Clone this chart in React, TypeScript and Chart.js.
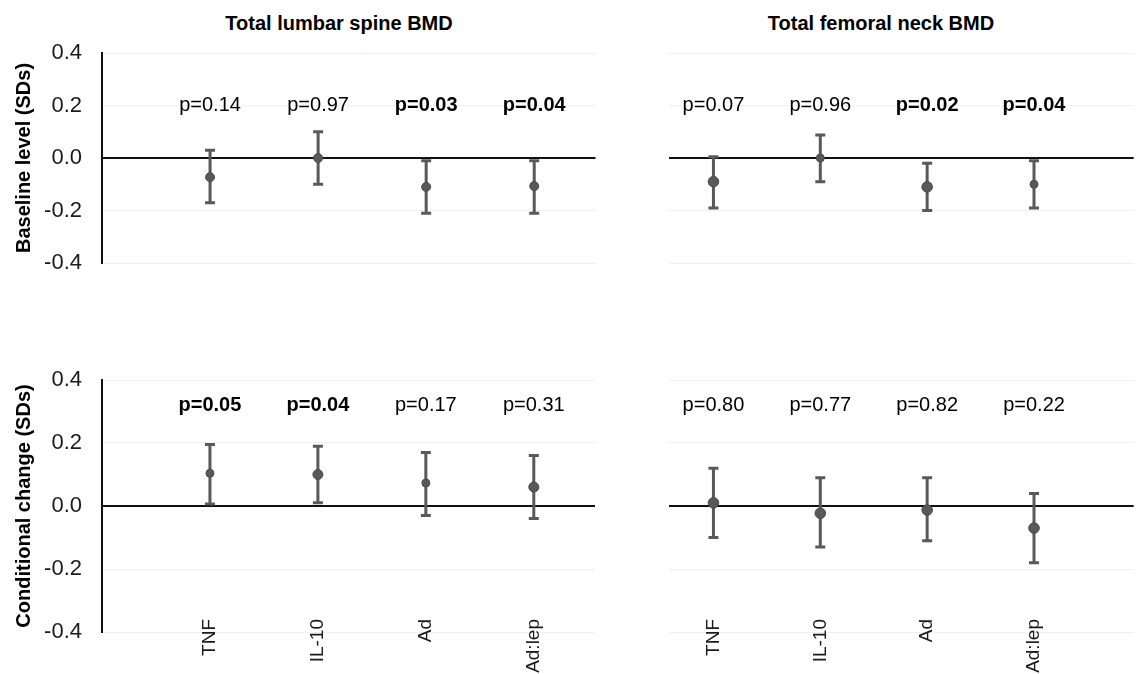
import React, { useEffect, useRef } from "react";
import { Chart, registerables } from "chart.js";

Chart.register(...registerables);

// ---------- data ----------
const categories = ["TNF", "IL-10", "Ad", "Ad:lep"];
const yTickValues = [-0.4, -0.2, 0.0, 0.2, 0.4];

const panelTitles = ["Total lumbar spine BMD", "Total femoral neck BMD"];
const rowTitles = ["Baseline level (SDs)", "Conditional change (SDs)"];

// Top-left: lumbar spine, baseline level
const lumbarBaselineMean = [-0.073, 0.0, -0.11, -0.107];
const lumbarBaselineLower = [-0.17, -0.1, -0.21, -0.21];
const lumbarBaselineUpper = [0.03, 0.1, -0.01, -0.01];
const lumbarBaselineP = ["p=0.14", "p=0.97", "p=0.03", "p=0.04"];
const lumbarBaselineBold = [false, false, true, true];

// Top-right: femoral neck, baseline level
const femoralBaselineMean = [-0.09, 0.0, -0.11, -0.1];
const femoralBaselineLower = [-0.19, -0.09, -0.2, -0.19];
const femoralBaselineUpper = [0.005, 0.088, -0.02, -0.01];
const femoralBaselineP = ["p=0.07", "p=0.96", "p=0.02", "p=0.04"];
const femoralBaselineBold = [false, false, true, true];

// Bottom-left: lumbar spine, conditional change
const lumbarChangeMean = [0.104, 0.1, 0.073, 0.06];
const lumbarChangeLower = [0.006, 0.01, -0.03, -0.04];
const lumbarChangeUpper = [0.195, 0.19, 0.17, 0.16];
const lumbarChangeP = ["p=0.05", "p=0.04", "p=0.17", "p=0.31"];
const lumbarChangeBold = [true, true, false, false];

// Bottom-right: femoral neck, conditional change
const femoralChangeMean = [0.01, -0.023, -0.013, -0.07];
const femoralChangeLower = [-0.1, -0.13, -0.11, -0.18];
const femoralChangeUpper = [0.12, 0.09, 0.09, 0.04];
const femoralChangeP = ["p=0.80", "p=0.77", "p=0.82", "p=0.22"];
const femoralChangeBold = [false, false, false, false];

// ---------- styling ----------
const FONT = '"Liberation Sans", Arial, Helvetica, sans-serif';
const MARK = "#595959";

type PanelProps = {
  mean: number[];
  lower: number[];
  upper: number[];
  pLabels: string[];
  pBold: boolean[];
  radii: number[];
  left: number;
  top: number;
  width: number;
  height: number;
  padTop: number;
  padBottom: number;
  padLeft: number;
  showY: boolean;
  yTitle?: string;
  showX: boolean;
  xMin: number;
  xMax: number;
  pOffset: number;
};

function makeErrorPlugin(p: PanelProps) {
  return {
    id: "errorBarsAndP",
    beforeDatasetsDraw(chart: any) {
      const { ctx } = chart;
      const x = chart.scales.x;
      const y = chart.scales.y;
      ctx.save();
      ctx.strokeStyle = MARK;
      ctx.lineWidth = 3;
      ctx.lineCap = "butt";
      p.lower.forEach((lo, i) => {
        const px = x.getPixelForValue(i + 1);
        const yl = y.getPixelForValue(lo);
        const yu = y.getPixelForValue(p.upper[i]);
        ctx.beginPath();
        ctx.moveTo(px, yl);
        ctx.lineTo(px, yu);
        ctx.moveTo(px - 5, yl);
        ctx.lineTo(px + 5, yl);
        ctx.moveTo(px - 5, yu);
        ctx.lineTo(px + 5, yu);
        ctx.stroke();
      });
      ctx.restore();
    },
    afterDatasetsDraw(chart: any) {
      const { ctx, chartArea } = chart;
      const x = chart.scales.x;
      ctx.save();
      ctx.fillStyle = "#000";
      ctx.textAlign = "center";
      ctx.textBaseline = "middle";
      p.pLabels.forEach((t, i) => {
        ctx.font = `${p.pBold[i] ? "bold " : ""}20px ${FONT}`;
        ctx.fillText(t, x.getPixelForValue(i + 1), chartArea.top + p.pOffset);
      });
      ctx.restore();
    },
  };
}

function Panel(props: PanelProps) {
  const ref = useRef<HTMLCanvasElement | null>(null);
  useEffect(() => {
    if (!ref.current) return;
    const p = props;
    const chart = new Chart(ref.current, {
      type: "scatter",
      data: {
        datasets: [
          {
            data: p.mean.map((m, i) => ({ x: i + 1, y: m })),
            backgroundColor: MARK,
            borderColor: "#4a4a4a",
            borderWidth: 1,
            pointRadius: p.radii,
            pointHoverRadius: p.radii,
          },
        ],
      },
      options: {
        animation: false,
        responsive: false,
        events: [],
        layout: {
          padding: { top: p.padTop, bottom: p.padBottom, left: p.padLeft, right: 0 },
        },
        plugins: {
          legend: { display: false },
          tooltip: { enabled: false },
          title: { display: false },
        },
        scales: {
          x: {
            type: "linear",
            position: "bottom",
            display: p.showX,
            min: p.xMin,
            max: p.xMax,
            afterBuildTicks: (axis: any) => {
              axis.ticks = categories.map((_, i) => ({ value: i + 1 }));
            },
            afterFit: (axis: any) => {
              axis.height = 42;
              // let the rotated category labels reach up into the plot band
              axis._computeLabelArea = () => undefined;
            },
            grid: { display: false, drawTicks: false },
            border: { display: false },
            ticks: {
              autoSkip: false,
              minRotation: 90,
              maxRotation: 90,
              padding: -13,
              color: "#1a1a1a",
              font: { family: FONT, size: 19 },
              callback: (v: any) => categories[Math.round(Number(v)) - 1] ?? "",
            },
          },
          y: {
            type: "linear",
            min: -0.4,
            max: 0.4,
            afterBuildTicks: (axis: any) => {
              axis.ticks = yTickValues.map((v) => ({ value: v }));
            },
            afterFit: (axis: any) => {
              axis.width = p.showY ? 102 : 0;
            },
            grid: {
              drawTicks: false,
              color: (c: any) => (c.tick && Math.abs(c.tick.value) < 1e-9 ? "#111111" : "#f0f0f0"),
              lineWidth: (c: any) => (c.tick && Math.abs(c.tick.value) < 1e-9 ? 2 : 1),
            },
            border: { display: p.showY, color: "#111111", width: 2 },
            ticks: {
              display: p.showY,
              padding: 20,
              color: "#1a1a1a",
              font: { family: FONT, size: 22 },
              callback: (v: any) => Number(v).toFixed(1),
            },
            title: {
              display: p.showY && !!p.yTitle,
              text: p.yTitle || "",
              color: "#000",
              font: { family: FONT, size: 20, weight: "bold" },
              padding: { top: 12, bottom: 0 },
            },
          },
        },
      },
      plugins: [makeErrorPlugin(p)],
    } as any);
    return () => chart.destroy();
  }, []);
  return (
    <canvas
      ref={ref}
      width={props.width}
      height={props.height}
      style={{
        position: "absolute",
        left: props.left,
        top: props.top,
        width: props.width,
        height: props.height,
        display: "block",
      }}
    />
  );
}

const titleStyle = (cx: number): React.CSSProperties => ({
  position: "absolute",
  left: cx,
  top: 11,
  transform: "translateX(-50%)",
  fontFamily: FONT,
  fontWeight: "bold",
  fontSize: 20,
  lineHeight: "24px",
  whiteSpace: "nowrap",
  color: "#000",
});

export default function App() {
  return (
    <div
      style={{
        position: "absolute",
        left: 0,
        top: 0,
        width: 1140,
        height: 674,
        background: "#fff",
        overflow: "hidden",
      }}
    >
      <div style={titleStyle(339)}>{panelTitles[0]}</div>
      <div style={titleStyle(881)}>{panelTitles[1]}</div>

      <Panel
        mean={lumbarBaselineMean}
        lower={lumbarBaselineLower}
        upper={lumbarBaselineUpper}
        pLabels={lumbarBaselineP}
        pBold={lumbarBaselineBold}
        radii={[4.5, 4.5, 4.5, 4.5]}
        left={0}
        top={0}
        width={601}
        height={330}
        padTop={53}
        padBottom={25}
        padLeft={0}
        showY={true}
        yTitle={rowTitles[0]}
        showX={false}
        xMin={0}
        xMax={4.567}
        pOffset={52}
      />
      <Panel
        mean={femoralBaselineMean}
        lower={femoralBaselineLower}
        upper={femoralBaselineUpper}
        pLabels={femoralBaselineP}
        pBold={femoralBaselineBold}
        radii={[5.3, 4, 5.3, 4]}
        left={601}
        top={0}
        width={539}
        height={330}
        padTop={53}
        padBottom={25}
        padLeft={68}
        showY={false}
        showX={false}
        xMin={0.584}
        xMax={4.933}
        pOffset={52}
      />
      <Panel
        mean={lumbarChangeMean}
        lower={lumbarChangeLower}
        upper={lumbarChangeUpper}
        pLabels={lumbarChangeP}
        pBold={lumbarChangeBold}
        radii={[4, 5, 4, 5]}
        left={0}
        top={330}
        width={601}
        height={344}
        padTop={50}
        padBottom={0}
        padLeft={0}
        showY={true}
        yTitle={rowTitles[1]}
        showX={true}
        xMin={0}
        xMax={4.567}
        pOffset={25}
      />
      <Panel
        mean={femoralChangeMean}
        lower={femoralChangeLower}
        upper={femoralChangeUpper}
        pLabels={femoralChangeP}
        pBold={femoralChangeBold}
        radii={[5.3, 5.3, 5.3, 5.3]}
        left={601}
        top={330}
        width={539}
        height={344}
        padTop={50}
        padBottom={0}
        padLeft={68}
        showY={false}
        showX={true}
        xMin={0.584}
        xMax={4.933}
        pOffset={25}
      />
    </div>
  );
}
